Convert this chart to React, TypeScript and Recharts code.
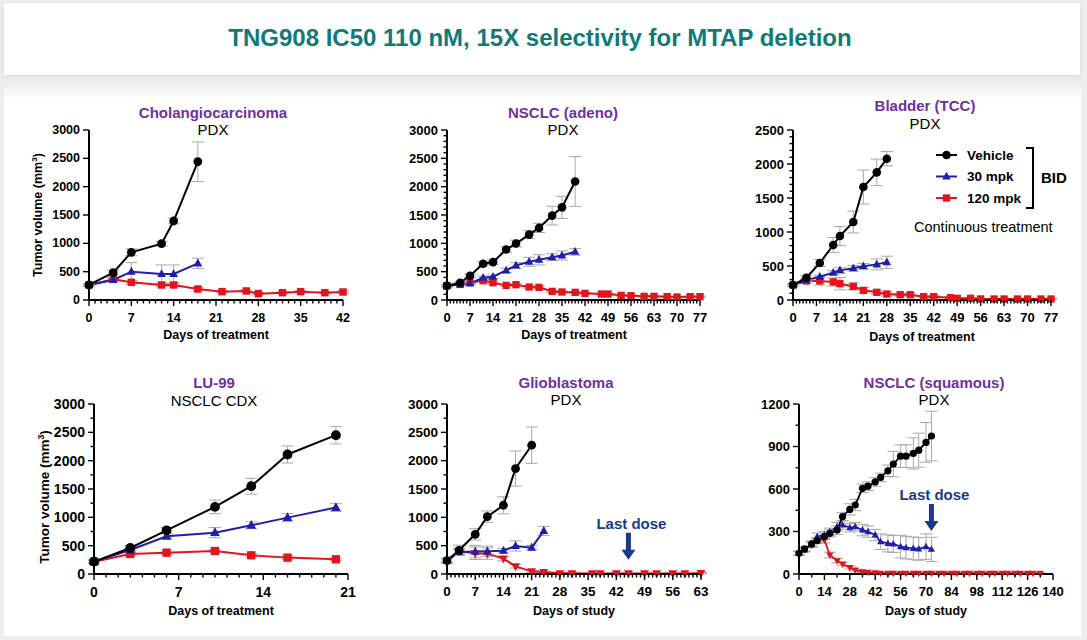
import React from "react";
import { LineChart, Line, XAxis, YAxis, ErrorBar, ReferenceDot } from "recharts";

const BLACK = "#000000";
const BLUE = "#1f1fa8";
const RED = "#e3141c";
const PURPLE = "#7030a0";
const TEAL = "#0f7a7a";
const NAVY = "#1a3a8c";
const ERR = "#a8a8a8";
const FONT = "'Liberation Sans', Arial, Helvetica, sans-serif";

// Cholangiocarcinoma PDX
const cholDays = [0, 4, 7, 12, 14, 18];
const cholDaysLow = [0, 4, 7, 12, 14, 18, 22, 26, 28, 32, 35, 39, 42];
const cholVehicle = [265, 482, 841, 994, 1394, 2440];
const cholVehicleErr = [20, 40, 60, 40, 50, 350];
const chol30 = [265, 353, 500, 459, 459, 647];
const chol30Err = [20, 30, 160, 160, 160, 90];
const chol120 = [265, 365, 312, 265, 265, 194, 147, 159, 112, 129, 147, 129, 141];
const chol120Err = [20, 30, 30, 30, 30, 30, 20, 20, 20, 20, 20, 20, 20];
const cholXTicks = [0, 7, 14, 21, 28, 35, 42];
const cholYTicks = [0, 500, 1000, 1500, 2000, 2500, 3000];

// NSCLC (adeno) PDX
const adenoDays = [0, 4, 7, 11, 14, 18, 21, 25, 28, 32, 35, 39];
const adenoDaysLow = [0, 4, 7, 11, 14, 18, 21, 25, 28, 32, 35, 39, 42, 47, 49, 53, 56, 60, 63, 67, 70, 74, 77];
const adenoVehicle = [252, 305, 428, 639, 668, 891, 996, 1154, 1272, 1489, 1635, 2092];
const adenoVehicleErr = [20, 20, 30, 40, 40, 50, 60, 70, 80, 165, 195, 440];
const adeno30 = [252, 275, 293, 393, 410, 522, 609, 674, 709, 756, 785, 850];
const adeno30Err = [20, 20, 20, 30, 30, 40, 50, 80, 90, 60, 80, 60];
const adeno120 = [252, 275, 310, 340, 305, 258, 270, 229, 223, 152, 141, 135, 117, 105, 105, 82, 76, 64, 64, 59, 53, 59, 59];
const adeno120Err = [20, 20, 20, 20, 30, 20, 20, 20, 20, 20, 20, 15, 15, 15, 15, 10, 10, 10, 10, 10, 10, 10, 10];
const adenoXTicks = [0, 7, 14, 21, 28, 35, 42, 49, 56, 63, 70, 77];
const adenoYTicks = [0, 500, 1000, 1500, 2000, 2500, 3000];

// Bladder (TCC) PDX
const bladderDays = [0, 4, 8, 12, 14, 18, 21, 25, 28];
const bladderDaysLow = [0, 4, 8, 12, 14, 18, 21, 25, 28, 32, 35, 39, 42, 47, 49, 53, 56, 60, 63, 67, 70, 74, 77];
const bladderVehicle = [220, 328, 544, 809, 941, 1147, 1661, 1877, 2078];
const bladderVehicleErr = [20, 30, 50, 110, 140, 160, 250, 195, 105];
const bladder30 = [220, 290, 343, 402, 436, 466, 495, 524, 554];
const bladder30Err = [20, 20, 20, 30, 40, 40, 40, 80, 90];
const bladder120 = [220, 280, 280, 265, 240, 200, 142, 113, 88, 78, 78, 49, 49, 34, 25, 25, 15, 15, 15, 15, 15, 15, 15];
const bladder120Err = [20, 30, 60, 60, 90, 50, 40, 30, 30, 20, 20, 15, 15, 15, 10, 10, 10, 10, 10, 10, 10, 10, 10];
const bladderXTicks = [0, 7, 14, 21, 28, 35, 42, 49, 56, 63, 70, 77];
const bladderYTicks = [0, 500, 1000, 1500, 2000, 2500];

// LU-99 NSCLC CDX
const lu99Days = [0, 3, 6, 10, 13, 16, 20];
const lu99Vehicle = [218, 459, 771, 1184, 1549, 2109, 2450];
const lu99VehicleErr = [30, 40, 50, 120, 140, 150, 155];
const lu9930 = [218, 424, 666, 730, 860, 995, 1172];
const lu9930Err = [30, 30, 40, 90, 60, 70, 70];
const lu99120 = [218, 353, 377, 406, 330, 289, 259];
const lu99120Err = [30, 30, 30, 30, 30, 30, 20];
const lu99XTicks = [0, 7, 14, 21];
const lu99YTicks = [0, 500, 1000, 1500, 2000, 2500, 3000];

// Glioblastoma PDX
const gbmDaysVehicle = [0, 3, 7, 10, 14, 17, 21];
const gbmDays30 = [0, 3, 7, 10, 14, 17, 21, 24];
const gbmDaysLow = [0, 3, 7, 10, 14, 17, 21, 24, 28, 31, 36, 38, 42, 45, 49, 52, 56, 59, 63];
const gbmVehicle = [236, 418, 700, 1013, 1213, 1861, 2273];
const gbmVehicleErr = [40, 90, 100, 100, 150, 310, 320];
const gbm30 = [236, 389, 395, 400, 412, 495, 465, 760];
const gbm30Err = [30, 40, 110, 90, 40, 90, 40, 80];
const gbm120 = [236, 395, 365, 359, 271, 135, 47, 35, 12, 12, 10, 10, 10, 10, 10, 10, 10, 10, 15];
const gbm120Err = [40, 60, 110, 100, 40, 30, 20, 15, 10, 10, 8, 8, 8, 8, 8, 8, 8, 8, 10];
const gbmXTicks = [0, 7, 14, 21, 28, 35, 42, 49, 56, 63];
const gbmYTicks = [0, 500, 1000, 1500, 2000, 2500, 3000];
const gbmLastDose = { day: 45, level: 250 };

// NSCLC (squamous) PDX
const sqDays = [0, 3, 7, 10, 14, 17, 21, 24, 28, 31, 35, 38, 42, 45, 49, 52, 56, 59, 63, 66, 70, 73];
const sqDaysLow = [0, 3, 7, 10, 14, 17, 21, 24, 28, 31, 35, 38, 42, 45, 49, 52, 56, 59, 63, 66, 70, 73, 77, 80, 84, 87, 91, 94, 98, 101, 105, 108, 112, 115, 119, 122, 126, 129, 133];
const sqVehicle = [146, 177, 212, 235, 264, 287, 310, 405, 456, 487, 605, 620, 650, 682, 729, 776, 832, 832, 851, 874, 929, 974];
const sqVehicleErr = [15, 15, 20, 20, 20, 25, 30, 30, 40, 40, 30, 30, 30, 30, 40, 90, 80, 80, 110, 120, 140, 175];
const sq30 = [146, 170, 212, 264, 275, 299, 334, 346, 327, 334, 310, 299, 275, 228, 216, 212, 193, 186, 181, 177, 193, 174];
const sq30Err = [15, 15, 20, 25, 25, 25, 30, 30, 30, 30, 40, 40, 40, 55, 60, 60, 80, 80, 80, 80, 90, 85];
const sq120 = [146, 172, 205, 235, 240, 134, 94, 71, 45, 28, 16, 12, 8, 6, 5, 5, 5, 5, 5, 5, 5, 5, 5, 5, 5, 5, 5, 5, 5, 5, 5, 5, 5, 5, 5, 5, 5, 5, 5];
const sq120Err = [12, 12, 15, 15, 20, 20, 15, 12, 10, 8, 6, 5, 4, 3, 3, 3, 3, 3, 3, 3, 3, 3, 3, 3, 3, 3, 3, 3, 3, 3, 3, 3, 3, 3, 3, 3, 3, 3, 3];
const sqXTicks = [0, 14, 28, 42, 56, 70, 84, 98, 112, 126, 140];
const sqYTicks = [0, 300, 600, 900, 1200];
const sqLastDose = { day: 73, level: 304 };

type Pt = { day: number; v: number; e: number };
type Kind = "circle" | "up" | "square" | "down";
type Series = { data: Pt[]; color: string; kind: Kind };

const pts = (days: number[], vals: number[], errs: number[]): Pt[] =>
  days.map((day, i) => ({ day, v: vals[i], e: errs[i] }));

const stepTicks = (max: number, step: number) =>
  Array.from({ length: Math.round(max / step) + 1 }, (_, i) => i * step);

function Marker({ kind, cx, cy, s, color }: any) {
  if (kind === "circle") return <circle cx={cx} cy={cy} r={s} fill={color} />;
  if (kind === "square")
    return <rect x={cx - s * 0.85} y={cy - s * 0.85} width={s * 1.7} height={s * 1.7} fill={color} />;
  if (kind === "up")
    return <path d={`M${cx},${cy - s * 1.1} L${cx + s},${cy + s * 0.7} L${cx - s},${cy + s * 0.7}Z`} fill={color} />;
  return <path d={`M${cx},${cy + s * 1.1} L${cx + s},${cy - s * 0.7} L${cx - s},${cy - s * 0.7}Z`} fill={color} />;
}

const XTick = (props: any) => {
  const { x, y, payload, majors, fs } = props;
  const major = majors.includes(payload.value);
  return (
    <g>
      <line x1={x} y1={y} x2={x} y2={y + (major ? 6 : 3.5)} stroke="#000" strokeWidth={1.4} />
      {major && (
        <text x={x} y={y + 17.5} textAnchor="middle" dominantBaseline="central" fontFamily={FONT}
          fontWeight="bold" fontSize={fs} fill="#000">
          {payload.value}
        </text>
      )}
    </g>
  );
};

const YTick = (props: any) => {
  const { x, y, payload, majors, fs } = props;
  const major = majors.includes(payload.value);
  return (
    <g>
      <line x1={x} y1={y} x2={x - (major ? 6 : 3.5)} y2={y} stroke="#000" strokeWidth={1.4} />
      {major && (
        <text x={x - 9} y={y} textAnchor="end" dominantBaseline="central" fontFamily={FONT}
          fontWeight="bold" fontSize={fs} fill="#000">
          {payload.value}
        </text>
      )}
    </g>
  );
};

const LastDose = (props: any) => {
  const { cx, cy } = props;
  return (
    <g>
      <text x={cx + 3} y={cy - 36} textAnchor="middle" dominantBaseline="central" fontFamily={FONT}
        fontWeight="bold" fontSize={15} fill={NAVY}>
        Last dose
      </text>
      <path d={`M${cx - 2.5},${cy - 27} h5 v17 h4.5 L${cx},${cy} L${cx - 7},${cy - 10} h4.5 Z`} fill={NAVY} />
    </g>
  );
};

type PanelCfg = {
  left: number; top: number; w: number; h: number;
  xMax: number; xMajor: number[]; xMinor: number;
  yMax: number; yMajor: number[]; yMinor: number;
  fs: number; ms: number; lw: number;
  series: Series[];
  lastDose?: { day: number; level: number };
};

const YW = 70;
const MT = 10;
const MR = 14;
const XH = 30;

function Panel({ cfg }: { cfg: PanelCfg }) {
  return (
    <div style={{ position: "absolute", left: cfg.left - YW, top: cfg.top - MT }}>
      <LineChart width={YW + cfg.w + MR} height={MT + cfg.h + XH} margin={{ top: MT, right: MR, left: 0, bottom: 0 }}>
        <XAxis type="number" dataKey="day" domain={[0, cfg.xMax]} ticks={stepTicks(cfg.xMax, cfg.xMinor)}
          interval={0} height={XH} tickSize={0} tickMargin={0} tickLine={false}
          axisLine={{ stroke: "#000", strokeWidth: 2 }}
          tick={<XTick majors={cfg.xMajor} fs={cfg.fs} />} />
        <YAxis type="number" domain={[0, cfg.yMax]} ticks={stepTicks(cfg.yMax, cfg.yMinor)}
          interval={0} width={YW} tickSize={0} tickMargin={0} tickLine={false}
          axisLine={{ stroke: "#000", strokeWidth: 2 }}
          tick={<YTick majors={cfg.yMajor} fs={cfg.fs} />} />
        {cfg.series.map((s, si) => (
          <Line key={si} data={s.data} dataKey="v" type="linear" stroke={s.color} strokeWidth={cfg.lw}
            isAnimationActive={false} activeDot={false} legendType="none"
            dot={(p: any) => <Marker key={`m${si}-${p.index}`} kind={s.kind} cx={p.cx} cy={p.cy} s={cfg.ms} color={s.color} />}>
            <ErrorBar dataKey="e" width={6} stroke={ERR} strokeWidth={1} direction="y" />
          </Line>
        ))}
        {cfg.lastDose && (
          <ReferenceDot x={cfg.lastDose.day} y={cfg.lastDose.level} r={0} shape={<LastDose />} />
        )}
      </LineChart>
    </div>
  );
}

const panels: PanelCfg[] = [
  {
    left: 89, top: 130, w: 254, h: 170, xMax: 42, xMajor: cholXTicks, xMinor: 1,
    yMax: 3000, yMajor: cholYTicks, yMinor: 500, fs: 12.5, ms: 4.4, lw: 2,
    series: [
      { data: pts(cholDaysLow, chol120, chol120Err), color: RED, kind: "square" },
      { data: pts(cholDays, chol30, chol30Err), color: BLUE, kind: "up" },
      { data: pts(cholDays, cholVehicle, cholVehicleErr), color: BLACK, kind: "circle" },
    ],
  },
  {
    left: 447, top: 130, w: 253, h: 170, xMax: 77, xMajor: adenoXTicks, xMinor: 1,
    yMax: 3000, yMajor: adenoYTicks, yMinor: 100, fs: 13, ms: 4.3, lw: 2,
    series: [
      { data: pts(adenoDaysLow, adeno120, adeno120Err), color: RED, kind: "square" },
      { data: pts(adenoDays, adeno30, adeno30Err), color: BLUE, kind: "up" },
      { data: pts(adenoDays, adenoVehicle, adenoVehicleErr), color: BLACK, kind: "circle" },
    ],
  },
  {
    left: 793, top: 130, w: 258, h: 170, xMax: 77, xMajor: bladderXTicks, xMinor: 1,
    yMax: 2500, yMajor: bladderYTicks, yMinor: 100, fs: 13, ms: 4.3, lw: 2,
    series: [
      { data: pts(bladderDaysLow, bladder120, bladder120Err), color: RED, kind: "square" },
      { data: pts(bladderDays, bladder30, bladder30Err), color: BLUE, kind: "up" },
      { data: pts(bladderDays, bladderVehicle, bladderVehicleErr), color: BLACK, kind: "circle" },
    ],
  },
  {
    left: 94, top: 404, w: 254, h: 170, xMax: 21, xMajor: lu99XTicks, xMinor: 1,
    yMax: 3000, yMajor: lu99YTicks, yMinor: 250, fs: 14, ms: 4.9, lw: 2,
    series: [
      { data: pts(lu99Days, lu99120, lu99120Err), color: RED, kind: "square" },
      { data: pts(lu99Days, lu9930, lu9930Err), color: BLUE, kind: "up" },
      { data: pts(lu99Days, lu99Vehicle, lu99VehicleErr), color: BLACK, kind: "circle" },
    ],
  },
  {
    left: 447, top: 404, w: 254, h: 170, xMax: 63, xMajor: gbmXTicks, xMinor: 1,
    yMax: 3000, yMajor: gbmYTicks, yMinor: 250, fs: 13.5, ms: 4.4, lw: 2,
    lastDose: gbmLastDose,
    series: [
      { data: pts(gbmDaysLow, gbm120, gbm120Err), color: RED, kind: "down" },
      { data: pts(gbmDays30, gbm30, gbm30Err), color: BLUE, kind: "up" },
      { data: pts(gbmDaysVehicle, gbmVehicle, gbmVehicleErr), color: BLACK, kind: "circle" },
    ],
  },
  {
    left: 799, top: 404, w: 254, h: 170, xMax: 140, xMajor: sqXTicks, xMinor: 7,
    yMax: 1200, yMajor: sqYTicks, yMinor: 150, fs: 13, ms: 3.6, lw: 1.8,
    lastDose: sqLastDose,
    series: [
      { data: pts(sqDaysLow, sq120, sq120Err), color: RED, kind: "down" },
      { data: pts(sqDays, sq30, sq30Err), color: BLUE, kind: "up" },
      { data: pts(sqDays, sqVehicle, sqVehicleErr), color: BLACK, kind: "circle" },
    ],
  },
];

const titles = [
  { text: "Cholangiocarcinoma", sub: "PDX", x: 213, y: 112, subY: 129 },
  { text: "NSCLC (adeno)", sub: "PDX", x: 563, y: 112, subY: 129 },
  { text: "Bladder (TCC)", sub: "PDX", x: 925, y: 105, subY: 123 },
  { text: "LU-99", sub: "NSCLC CDX", x: 214, y: 382, subY: 400 },
  { text: "Glioblastoma", sub: "PDX", x: 566, y: 382, subY: 399 },
  { text: "NSCLC (squamous)", sub: "PDX", x: 934, y: 382, subY: 399 },
];

const xTitles = [
  { text: "Days of treatment", x: 216, y: 335 },
  { text: "Days of treatment", x: 574, y: 335 },
  { text: "Days of treatment", x: 922, y: 337 },
  { text: "Days of treatment", x: 221, y: 611 },
  { text: "Days of study", x: 574, y: 611 },
  { text: "Days of study", x: 926, y: 611 },
];

const yTitles = [
  { x: 38, y: 215, fs: 12.5 },
  { x: 45, y: 497, fs: 13.5 },
];

const legendItems = [
  { label: "Vehicle", color: BLACK, kind: "circle" as Kind },
  { label: "30 mpk", color: BLUE, kind: "up" as Kind },
  { label: "120 mpk", color: RED, kind: "square" as Kind },
];

function Txt({ x, y, fs, bold, color, children }: any) {
  return (
    <div style={{
      position: "absolute", left: x, top: y - fs * 0.49, transform: "translateX(-50%)",
      fontFamily: FONT, fontSize: fs, lineHeight: `${fs}px`, fontWeight: bold ? "bold" : "normal",
      color, whiteSpace: "nowrap",
    }}>
      {children}
    </div>
  );
}

export default function App() {
  return (
    <div style={{ position: "absolute", left: 0, top: 0, width: 1087, height: 640, background: "#eeeeee", overflow: "hidden" }}>
      <div style={{ position: "absolute", left: 4, top: 3, width: 1076, height: 72, background: "#ffffff", boxShadow: "0 1px 4px rgba(0,0,0,0.10)" }} />
      <div style={{ position: "absolute", left: 4, top: 76, width: 1077, height: 560, background: "linear-gradient(#e6e6e6 0px, #ffffff 24px)" }} />
      <Txt x={540} y={38} fs={24} bold color={TEAL}>TNG908 IC50 110 nM, 15X selectivity for MTAP deletion</Txt>

      {titles.map((t, i) => (
        <React.Fragment key={i}>
          <Txt x={t.x} y={t.y} fs={15} bold color={PURPLE}>{t.text}</Txt>
          <Txt x={t.x} y={t.subY} fs={15} color="#000">{t.sub}</Txt>
        </React.Fragment>
      ))}
      {xTitles.map((t, i) => (
        <Txt key={i} x={t.x} y={t.y} fs={12.5} bold color="#000">{t.text}</Txt>
      ))}
      {yTitles.map((t, i) => (
        <div key={i} style={{
          position: "absolute", left: t.x, top: t.y, transform: "translate(-50%, -50%) rotate(-90deg)",
          fontFamily: FONT, fontSize: t.fs, lineHeight: `${t.fs}px`, fontWeight: "bold", whiteSpace: "nowrap", color: "#000",
        }}>
          Tumor volume (mm<sup style={{ fontSize: t.fs * 0.65, lineHeight: 0, verticalAlign: "0.55em" }}>3</sup>)
        </div>
      ))}

      {panels.map((p, i) => <Panel key={i} cfg={p} />)}

      <svg style={{ position: "absolute", left: 905, top: 140 }} width={175} height={100}>
        {legendItems.map((it, i) => {
          const cy = 15 + i * 21.5;
          return (
            <g key={i}>
              <line x1={31} y1={cy} x2={52} y2={cy} stroke={it.color} strokeWidth={2} />
              <Marker kind={it.kind} cx={41.5} cy={cy} s={4.3} color={it.color} />
              <text x={62} y={cy} dominantBaseline="central" fontFamily={FONT} fontWeight="bold" fontSize={13.5} fill="#000">
                {it.label}
              </text>
            </g>
          );
        })}
        <path d="M121,8 H128 V68 H121" fill="none" stroke="#000" strokeWidth={2} />
        <text x={136} y={37} dominantBaseline="central" fontFamily={FONT} fontWeight="bold" fontSize={15} fill="#000">BID</text>
        <text x={9} y={87} dominantBaseline="central" fontFamily={FONT} fontSize={14.5} fill="#000">Continuous treatment</text>
      </svg>
    </div>
  );
}
